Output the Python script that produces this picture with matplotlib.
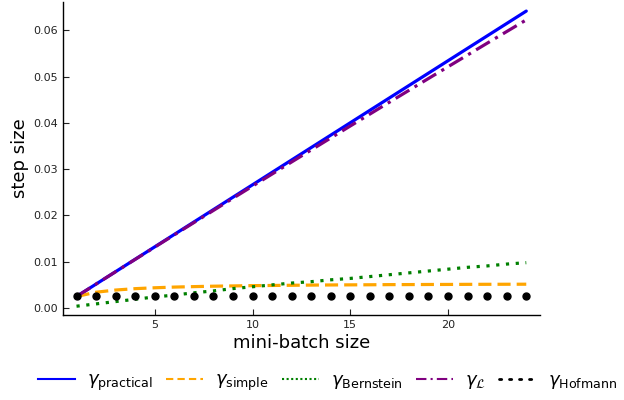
import matplotlib
matplotlib.use("Agg")
import matplotlib.pyplot as plt
from matplotlib.lines import Line2D

batch = list(range(1, 25))
gamma_practical = [0.0025, 0.00518, 0.00786, 0.01054, 0.01322, 0.0159, 0.01858, 0.02126,
                   0.02394, 0.02662, 0.0293, 0.03198, 0.03466, 0.03734, 0.04002, 0.0427,
                   0.04538, 0.04806, 0.05074, 0.05342, 0.0561, 0.05878, 0.06146, 0.06414]
gamma_simple = [0.0025, 0.00342, 0.00389, 0.00419, 0.00438, 0.00453, 0.00463, 0.00472,
                0.00478, 0.00484, 0.00488, 0.00492, 0.00496, 0.00499, 0.00501, 0.00503,
                0.00506, 0.00507, 0.00509, 0.0051, 0.00512, 0.00513, 0.00514, 0.00515]
gamma_bernstein = [0.0004, 0.0009, 0.0014, 0.0019, 0.0024, 0.0028, 0.0033, 0.0037,
                   0.0042, 0.0046, 0.0050, 0.0054, 0.0057, 0.0061, 0.0064, 0.0068,
                   0.0072, 0.0076, 0.0080, 0.0084, 0.0088, 0.0091, 0.0095, 0.0098]
gamma_L = [0.0025, 0.00518, 0.00785, 0.01051, 0.01316, 0.01581, 0.01845, 0.02108,
           0.02371, 0.02633, 0.02894, 0.03155, 0.03414, 0.03673, 0.03932, 0.04189,
           0.04446, 0.04702, 0.04958, 0.05212, 0.05466, 0.0572, 0.05972, 0.06224]
gamma_hofmann = [0.0025] * 24

labels = [r"$\gamma_{\rm practical}$", r"$\gamma_{\rm simple}$", r"$\gamma_{\rm Bernstein}$",
          r"$\gamma_{\mathcal{L}}$", r"$\gamma_{\rm Hofmann}$"]
xticks = [5, 10, 15, 20]
yticks = [0.00, 0.01, 0.02, 0.03, 0.04, 0.05, 0.06]

fig = plt.figure(figsize=(6.24, 4.0), dpi=100)
ax = fig.add_axes([0.101, 0.2125, 0.764, 0.7825])

lw = 2.3
ax.plot(batch, gamma_practical, color="#0000ff", lw=lw, solid_capstyle="round", zorder=2)
ax.plot(batch, gamma_simple, color="#ffa500", lw=lw, ls=(0, (4.1, 1.9)), zorder=2)
ax.plot(batch, gamma_bernstein, color="#008000", lw=lw, ls=(0, (1.0, 2.07)), zorder=2)
ax.plot(batch, gamma_L, color="#800080", lw=lw, ls=(0, (5.0, 1.9, 1.0, 1.9)), zorder=3)
ax.plot(batch, gamma_hofmann, color="black", ls="none", marker="o", ms=5.0, zorder=4)

ax.set_xlim(0.31, 24.69)
ax.set_ylim(-0.0015, 0.0661)
ax.set_xticks(xticks)
ax.set_yticks(yticks)
ax.set_yticklabels([f"{v:.2f}" for v in yticks])
ax.tick_params(direction="in", length=4, labelsize=8, colors="#222222", width=0.8)
for s in ["top", "right"]:
    ax.spines[s].set_visible(False)
for s in ["left", "bottom"]:
    ax.spines[s].set_linewidth(1.0)

ax.set_xlabel("mini-batch size", fontsize=13, labelpad=3)
ax.set_ylabel("step size", fontsize=13, labelpad=3)

handles = [
    Line2D([], [], color="#0000ff", lw=1.5),
    Line2D([], [], color="#ffa500", lw=1.5, ls=(0, (3.5, 2.0))),
    Line2D([], [], color="#008000", lw=1.5, ls=(0, (1.0, 1.2))),
    Line2D([], [], color="#800080", lw=1.5, ls=(0, (5.0, 2.0, 1.0, 2.0))),
    Line2D([], [], color="black", lw=2.0, ls=(0, (0.8, 2.8)), dash_capstyle="round"),
]
fig.legend(handles, labels, loc="center", bbox_to_anchor=(0.525, 0.045), ncol=5,
           frameon=False, fontsize=13, handlelength=2.05, columnspacing=0.72,
           handletextpad=0.66)

fig.savefig("out.png", dpi=100)
